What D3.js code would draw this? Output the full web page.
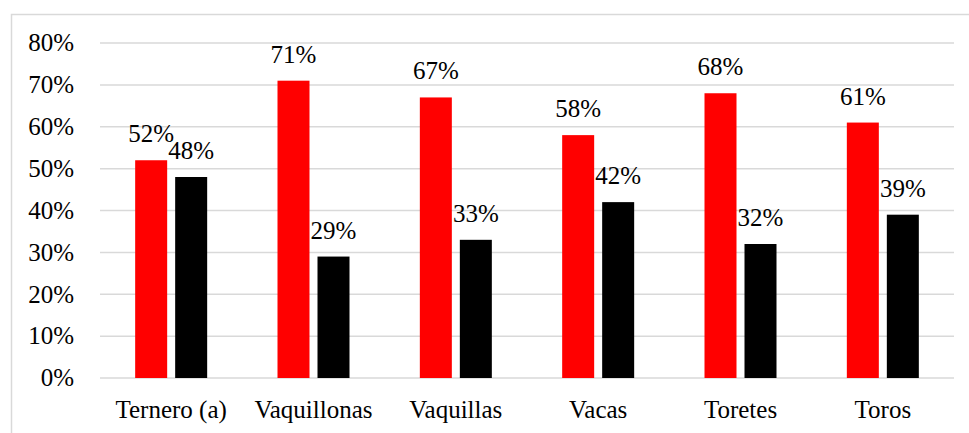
<!DOCTYPE html>
<html>
<head>
<meta charset="utf-8">
<script src="https://cdn.jsdelivr.net/npm/d3@7"></script>
</head>
<body style="margin:0">
<script>
// data
const categories = ["Ternero (a)", "Vaquillonas", "Vaquillas", "Vacas", "Toretes", "Toros"];
const seriesNames = ["a", "b"];
const redValues = [52, 71, 67, 58, 68, 61];
const blackValues = [48, 29, 33, 42, 32, 39];
const yTicks = [0, 10, 20, 30, 40, 50, 60, 70, 80];
const colors = ["#ff0000", "#000000"];

const W = 969, H = 433;
const margin = {top: 43, right: 15, bottom: 55, left: 100};
const FS = "25px";

const svg = d3.select("body")
  .append("svg")
    .attr("width", W)
    .attr("height", H);

// chart border (runs off the right/bottom like the reference)
svg.append("rect")
  .attr("x", 11.5).attr("y", 14.5)
  .attr("width", 980).attr("height", 440)
  .attr("fill", "none")
  .attr("stroke", "#d9d9d9")
  .attr("stroke-width", 1.5);

const x = d3.scaleBand()
  .domain(categories)
  .range([margin.left, W - margin.right]);

const y = d3.scaleLinear()
  .domain([0, 80])
  .range([H - margin.bottom, margin.top]);

// gridlines
svg.append("g")
  .selectAll("line")
  .data(yTicks)
  .join("line")
    .attr("x1", margin.left)
    .attr("x2", W - margin.right)
    .attr("y1", d => y(d))
    .attr("y2", d => y(d))
    .attr("stroke", "#d9d9d9")
    .attr("stroke-width", 1.5);

// y labels
svg.append("g")
  .selectAll("text")
  .data(yTicks)
  .join("text")
    .attr("x", 74)
    .attr("y", d => y(d))
    .attr("dy", "0.33em")
    .attr("text-anchor", "end")
    .style("font-family", d => `"Liberation Serif"`)
    .style("font-size", FS)
    .text(d => d + "%");

// x labels
svg.append("g")
  .selectAll("text")
  .data(categories)
  .join("text")
    .attr("x", d => x(d) + x.bandwidth() / 2)
    .attr("y", y(0) + 40)
    .attr("text-anchor", "middle")
    .style("font-family", d => `"Liberation Serif"`)
    .style("font-size", FS)
    .text(d => d);

// bars
const rows = categories.map((c, i) => ({cat: c, vals: [redValues[i], blackValues[i]]}));

const groups = svg.append("g")
  .selectAll("g")
  .data(rows)
  .join("g");

groups.each(function(d) {
  const cx = x(d.cat) + x.bandwidth() / 2;
  const sub = d3.scaleBand()
    .domain(seriesNames)
    .range([cx - 36, cx + 36])
    .paddingInner(0.2);
  const g = d3.select(this);
  const items = seriesNames.map((s, j) => ({s: s, v: d.vals[j], c: colors[j]}));
  g.selectAll("rect")
    .data(items)
    .join("rect")
      .attr("x", e => sub(e.s))
      .attr("y", e => y(e.v))
      .attr("width", sub.bandwidth())
      .attr("height", e => y(0) - y(e.v))
      .attr("fill", e => e.c);
  g.selectAll("text")
    .data(items)
    .join("text")
      .attr("x", e => sub(e.s) + sub.bandwidth() / 2)
      .attr("y", e => y(e.v) - 18)
      .attr("text-anchor", "middle")
      .style("font-family", e => `"Liberation Serif"`)
      .style("font-size", FS)
      .text(e => Math.round(e.v) + "%");
});
</script>
</body>
</html>
